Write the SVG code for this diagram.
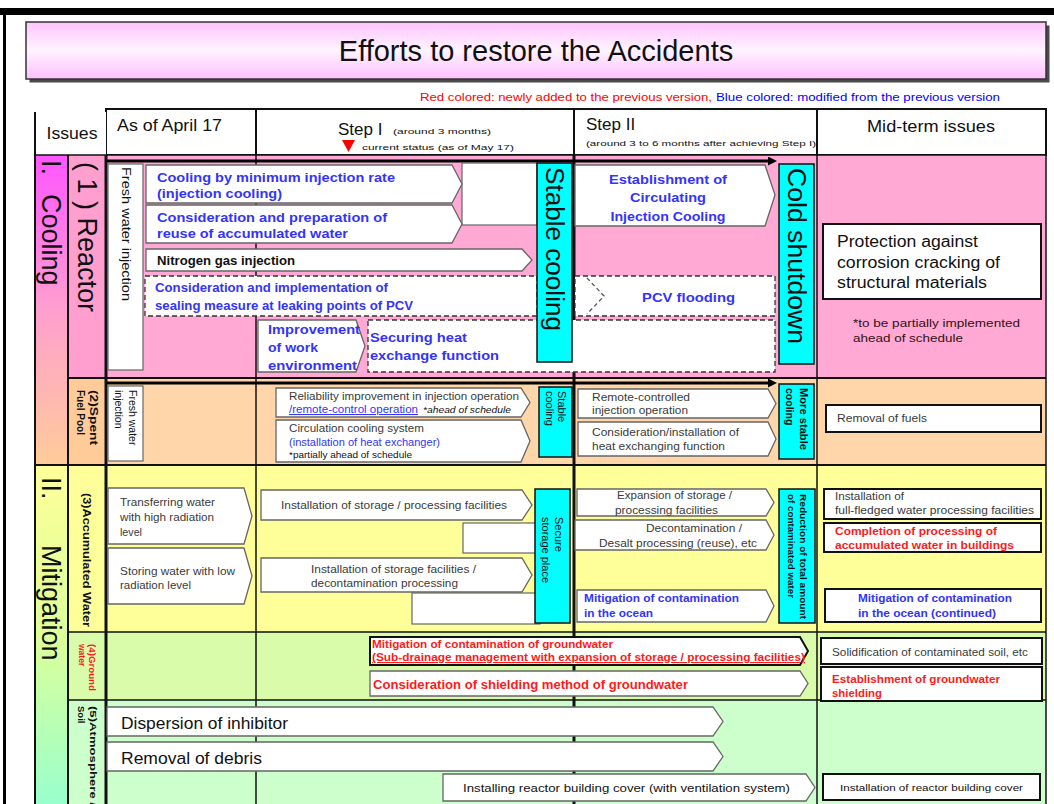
<svg xmlns="http://www.w3.org/2000/svg" width="1054" height="804" viewBox="0 0 1054 804">
<style>
text{font-family:"Liberation Sans",Arial,Helvetica,sans-serif;fill:#111}
.bb{fill:#3333ff;font-weight:bold;font-size:13px}
.bs{fill:#3333ff;font-weight:bold;font-size:11px}
.rb{fill:#ff1a1a;font-weight:bold;font-size:11px}
.gt{fill:#3a3a3a;font-size:10.5px}
.pent{fill:#fff;stroke:#666;stroke-width:1.3}
.pentk{fill:#fff;stroke:#111;stroke-width:2}
.dash{fill:#fff;stroke:#333;stroke-width:1.3;stroke-dasharray:5 3}
.cyan{fill:#00ffff;stroke:#111;stroke-width:1.5}
.box{fill:#fff;stroke:#111;stroke-width:2}
.wbox{fill:#fff;stroke:#666;stroke-width:1.2}
.rot{dominant-baseline:central}
.ln{stroke:#111;fill:none}
</style>
<defs>
<linearGradient id="gTitle" x1="0" y1="0" x2="0" y2="1">
<stop offset="0" stop-color="#ffc4ff"/>
<stop offset="0.5" stop-color="#fff4ff"/>
<stop offset="1" stop-color="#ffbfff"/>
</linearGradient>
<linearGradient id="gCool" x1="0" y1="0" x2="0" y2="1">
<stop offset="0" stop-color="#ff55ff"/>
<stop offset="0.5" stop-color="#ff9fcf"/>
<stop offset="1" stop-color="#ffcc99"/>
</linearGradient>
<linearGradient id="gMit" x1="0" y1="0" x2="0" y2="1">
<stop offset="0" stop-color="#ffff99"/>
<stop offset="0.5" stop-color="#ddff99"/>
<stop offset="1" stop-color="#99ffcc"/>
</linearGradient>
<marker id="ah" viewBox="0 0 10 10" refX="0" refY="5" markerWidth="3" markerHeight="3" orient="auto" markerUnits="strokeWidth">
<path d="M0 0 L10 5 L0 10 Z" fill="#000"/>
</marker>
</defs>

<rect x="0" y="0" width="1054" height="804" fill="#fff"/>
<rect x="0" y="8" width="1054" height="7" fill="#000"/>
<rect x="3" y="8" width="3" height="796" fill="#000"/>

<g id="title">
<rect x="29.5" y="25.5" width="1020" height="57" fill="#4a4a4a"/>
<rect x="26" y="22" width="1020" height="57" fill="url(#gTitle)" stroke="#333" stroke-width="1.5"/>
<text x="536" y="61" font-size="29" text-anchor="middle">Efforts to restore the Accidents</text>
</g>

<g id="legend">
<text x="420" y="101" font-size="11" fill="#ff0000" style="fill:#ff0000" textLength="292" lengthAdjust="spacingAndGlyphs">Red colored: newly added to the previous version,</text>
<text x="716" y="101" font-size="11" style="fill:#0000ff" textLength="284" lengthAdjust="spacingAndGlyphs">Blue colored: modified from the previous version</text>
</g>

<g id="header">
<rect x="106" y="109" width="940" height="46" fill="#fff" stroke="#111" stroke-width="2"/>
<rect x="35" y="112" width="71" height="43" fill="#fff"/>
<line class="ln" x1="35" y1="112" x2="35" y2="155" stroke-width="2"/>
<line class="ln" x1="256" y1="109" x2="256" y2="155" stroke-width="2"/>
<line class="ln" x1="574" y1="109" x2="574" y2="155" stroke-width="2"/>
<line class="ln" x1="817" y1="109" x2="817" y2="155" stroke-width="2"/>
<text x="72" y="139" font-size="16" text-anchor="middle" textLength="51" lengthAdjust="spacingAndGlyphs">Issues</text>
<text x="117" y="131" font-size="16" textLength="105" lengthAdjust="spacingAndGlyphs">As of April 17</text>
<text x="338" y="135" font-size="17">Step I</text>
<text x="393" y="134" font-size="8" textLength="98" lengthAdjust="spacingAndGlyphs">(around 3 months)</text>
<path d="M342 140 L355 140 L348.5 152 Z" fill="#ff0000"/>
<text x="362" y="150" font-size="8" textLength="152" lengthAdjust="spacingAndGlyphs">current status (as of May 17)</text>
<text x="586" y="130" font-size="17">Step II</text>
<text x="586" y="146" font-size="8" textLength="230" lengthAdjust="spacingAndGlyphs">(around 3 to 6 months after achieving Step I)</text>
<text x="931" y="132" font-size="17" text-anchor="middle" textLength="128" lengthAdjust="spacingAndGlyphs">Mid-term issues</text>
</g>

<g id="grid">
<rect x="106" y="155" width="940" height="223" fill="#ffa9d4"/>
<rect x="106" y="378" width="940" height="87" fill="#ffd6a9"/>
<rect x="106" y="465" width="940" height="167" fill="#ffff99"/>
<rect x="106" y="632" width="940" height="68" fill="#d9fcab"/>
<rect x="106" y="700" width="940" height="104" fill="#ccffcc"/>
<rect x="35" y="155" width="33" height="310" fill="url(#gCool)"/>
<rect x="35" y="465" width="33" height="339" fill="url(#gMit)"/>
<rect x="68" y="155" width="38" height="223" fill="#ff9fcf"/>
<rect x="68" y="378" width="38" height="87" fill="#ffcc99"/>
<rect x="68" y="465" width="38" height="167" fill="#ffff99"/>
<rect x="68" y="632" width="38" height="68" fill="#d9fcab"/>
<rect x="68" y="700" width="38" height="104" fill="#ccffcc"/>
<line class="ln" x1="35" y1="155" x2="1046" y2="155" stroke-width="1.5"/>
<line class="ln" x1="68" y1="378" x2="1046" y2="378" stroke="#4a2a3a" stroke-width="2"/>
<line class="ln" x1="35" y1="465" x2="1046" y2="465" stroke-width="2"/>
<line class="ln" x1="68" y1="632" x2="1046" y2="632" stroke-width="1.5"/>
<line class="ln" x1="68" y1="700" x2="1046" y2="700" stroke-width="1.5"/>
<line class="ln" x1="35" y1="155" x2="35" y2="804" stroke-width="2"/>
<line class="ln" x1="68" y1="155" x2="68" y2="804" stroke-width="2"/>
<line class="ln" x1="106" y1="155" x2="106" y2="804" stroke-width="3"/>
<line class="ln" x1="256" y1="155" x2="256" y2="804" stroke-width="1.5"/>
<line class="ln" x1="574" y1="155" x2="574" y2="804" stroke-width="3"/>
<line class="ln" x1="817" y1="155" x2="817" y2="804" stroke-width="1.5"/>
<line class="ln" x1="1046" y1="155" x2="1046" y2="804" stroke-width="1.5"/>
</g>

<g id="labels">
<g id="lab-cooling">
<text class="rot" font-size="27" transform="translate(51 160) rotate(90)">I.</text>
<text class="rot" font-size="27" transform="translate(51 194) rotate(90)">Cooling</text>
</g>
<g id="lab-mitigation">
<text class="rot" font-size="27" transform="translate(51 477) rotate(90)">II.</text>
<text class="rot" font-size="27" transform="translate(51 545) rotate(90)">Mitigation</text>
</g>
<g id="lab-reactor">
<text class="rot" font-size="27" transform="translate(87 162) rotate(90)" textLength="150" lengthAdjust="spacingAndGlyphs">( 1 ) Reactor</text>
</g>
<g id="lab-sfp" transform="translate(87 390) rotate(90)">
<text class="rot" y="-6.5" font-size="10" font-weight="bold" fill="#333" textLength="55" lengthAdjust="spacingAndGlyphs">(2)Spent</text>
<text class="rot" y="6.5" font-size="10" font-weight="bold" fill="#333">Fuel Pool</text>
</g>
<g id="lab-aw">
<text class="rot" font-size="11" font-weight="bold" fill="#333" transform="translate(87 493) rotate(90)" textLength="134" lengthAdjust="spacingAndGlyphs">(3)Accumulated Water</text>
</g>
<g id="lab-gw" transform="translate(87 644) rotate(90)">
<text class="rot" y="-5" font-size="8.5" font-weight="bold" style="fill:#ff1a1a" textLength="47" lengthAdjust="spacingAndGlyphs">(4)Ground</text>
<text class="rot" y="5" font-size="8.5" font-weight="bold" style="fill:#ff1a1a">water</text>
</g>
<g id="lab-as" transform="translate(87 706) rotate(90)">
<text class="rot" y="-6" font-size="9.5" font-weight="bold" fill="#333" textLength="100" lengthAdjust="spacingAndGlyphs">(5)Atmosphere /</text>
<text class="rot" y="6" font-size="9.5" font-weight="bold" fill="#333">Soil</text>
</g>
</g>

<g id="connectors">
<line x1="107" y1="161" x2="768" y2="161" stroke="#000" stroke-width="3" marker-end="url(#ah)"/>
<line x1="107" y1="383" x2="768" y2="383" stroke="#000" stroke-width="3" marker-end="url(#ah)"/>
</g>

<!-- Reactor row -->
<g id="n-fresh-reactor">
<rect class="wbox" x="108" y="164" width="35" height="206" stroke="#333"/>
<text class="rot" font-size="12" fill="#333" transform="translate(125.5 167) rotate(90)" textLength="134" lengthAdjust="spacingAndGlyphs">Fresh water injection</text>
</g>
<g id="n-circ-start"><rect class="wbox" x="462" y="163" width="75" height="62"/></g>
<g id="n-cool-min">
<path class="pent" d="M146 165 H452 L462 184 L452 203 H146 Z"/>
<text class="bb" x="157" y="182" textLength="238" lengthAdjust="spacingAndGlyphs">Cooling by minimum injection rate</text>
<text class="bb" x="157" y="198" textLength="125" lengthAdjust="spacingAndGlyphs">(injection cooling)</text>
</g>
<g id="n-reuse">
<path class="pent" d="M146 205 H452 L462 224 L452 243 H146 Z"/>
<text class="bb" x="157" y="222" textLength="230" lengthAdjust="spacingAndGlyphs">Consideration and preparation of</text>
<text class="bb" x="157" y="238" textLength="191" lengthAdjust="spacingAndGlyphs">reuse of accumulated water</text>
</g>
<g id="n-nitrogen">
<path class="pent" d="M146 249 H522 L532 260 L522 271 H146 Z"/>
<text x="157" y="265" font-size="12.5" font-weight="bold" fill="#333" textLength="138" lengthAdjust="spacingAndGlyphs">Nitrogen gas injection</text>
</g>
<g id="n-sealing">
<rect class="dash" x="145" y="276" width="392" height="40"/>
<text class="bb" x="155" y="292" textLength="233" lengthAdjust="spacingAndGlyphs">Consideration and implementation of</text>
<text class="bb" x="155" y="310" textLength="258" lengthAdjust="spacingAndGlyphs">sealing measure at leaking points of PCV</text>
</g>
<g id="n-securing">
<rect class="dash" x="368" y="320" width="407" height="52"/>
<text class="bb" x="370" y="342" textLength="97" lengthAdjust="spacingAndGlyphs">Securing heat</text>
<text class="bb" x="370" y="360" textLength="129" lengthAdjust="spacingAndGlyphs">exchange function</text>
</g>
<g id="n-improvement">
<path class="pent" d="M258 320 H356 L365 346 L356 372 H258 Z" stroke="#333"/>
<text class="bb" x="268" y="334" textLength="92" lengthAdjust="spacingAndGlyphs">Improvement</text>
<text class="bb" x="268" y="352" textLength="50" lengthAdjust="spacingAndGlyphs">of work</text>
<text class="bb" x="268" y="370" textLength="89" lengthAdjust="spacingAndGlyphs">environment</text>
</g>
<g id="n-stable-cooling">
<rect class="cyan" x="537" y="163" width="35" height="199"/>
<text class="rot" font-size="26" transform="translate(555 167) rotate(90)" textLength="164" lengthAdjust="spacingAndGlyphs">Stable cooling</text>
</g>
<g id="n-establishment">
<path class="pent" d="M575 165 H765 L775 195 L765 226 H575 Z"/>
<text class="bb" x="668" y="184" text-anchor="middle" textLength="118" lengthAdjust="spacingAndGlyphs">Establishment of</text>
<text class="bb" x="668" y="202" text-anchor="middle" textLength="76" lengthAdjust="spacingAndGlyphs">Circulating</text>
<text class="bb" x="668" y="221" text-anchor="middle" textLength="115" lengthAdjust="spacingAndGlyphs">Injection Cooling</text>
</g>
<g id="n-pcv-flooding">
<rect class="dash" x="575" y="276" width="200" height="40"/>
<polyline points="587,278 604,296 587,314" fill="none" stroke="#555" stroke-width="1.3" stroke-dasharray="4 3"/>
<text class="bb" x="642" y="302" textLength="93" lengthAdjust="spacingAndGlyphs">PCV flooding</text>
</g>
<g id="n-cold-shutdown">
<rect class="cyan" x="779" y="164" width="35" height="200"/>
<text class="rot" font-size="26" transform="translate(797 168) rotate(90)" textLength="176" lengthAdjust="spacingAndGlyphs">Cold shutdown</text>
</g>
<g id="n-protection">
<rect class="box" x="823" y="224" width="218" height="75"/>
<text x="837" y="247" font-size="16" textLength="141" lengthAdjust="spacingAndGlyphs">Protection against</text>
<text x="837" y="268" font-size="16" textLength="163" lengthAdjust="spacingAndGlyphs">corrosion cracking of</text>
<text x="837" y="288" font-size="16" textLength="150" lengthAdjust="spacingAndGlyphs">structural materials</text>
</g>
<g id="n-footnote">
<text x="853" y="327" font-size="10.5" style="fill:#331111" textLength="167" lengthAdjust="spacingAndGlyphs">*to be partially implemented</text>
<text x="853" y="342" font-size="10.5" style="fill:#331111" textLength="110" lengthAdjust="spacingAndGlyphs">ahead of schedule</text>
</g>

<!-- Spent fuel pool row -->
<g id="n-fresh-sfp">
<rect class="wbox" x="108" y="386" width="35" height="75" stroke="#333"/>
<g transform="translate(125.5 390) rotate(90)">
<text class="rot" y="-7" font-size="10.5" fill="#333">Fresh water</text>
<text class="rot" y="7" font-size="10.5" fill="#333">injection</text>
</g>
</g>
<g id="n-reliability">
<path class="pent" d="M276 388 H521 L530 402.5 L521 417 H276 Z"/>
<text class="gt" x="289" y="400" textLength="230" lengthAdjust="spacingAndGlyphs">Reliability improvement in injection operation</text>
<text class="gt" x="289" y="413" style="fill:#3333ff" text-decoration="underline" textLength="129" lengthAdjust="spacingAndGlyphs">/remote-control operation</text>
<text x="423" y="413" font-size="9" font-style="italic" fill="#222" textLength="88" lengthAdjust="spacingAndGlyphs">*ahead of schedule</text>
</g>
<g id="n-circulation">
<path class="pent" d="M276 420 H521 L530 441 L521 462 H276 Z"/>
<text class="gt" x="289" y="432" textLength="135" lengthAdjust="spacingAndGlyphs">Circulation cooling system</text>
<text class="gt" x="289" y="446" style="fill:#3333ff" textLength="151" lengthAdjust="spacingAndGlyphs">(installation of heat exchanger)</text>
<text x="289" y="458" font-size="9" fill="#222" textLength="123" lengthAdjust="spacingAndGlyphs">*partially ahead of schedule</text>
</g>
<g id="n-stable-sfp">
<rect class="cyan" x="539" y="387" width="33" height="70"/>
<g transform="translate(555.5 391) rotate(90)">
<text class="rot" y="-6" font-size="11">Stable</text>
<text class="rot" y="6" font-size="11">cooling</text>
</g>
</g>
<g id="n-remote">
<path class="pent" d="M578 389 H768 L776 403.5 L768 418 H578 Z"/>
<text class="gt" x="592" y="401" textLength="98" lengthAdjust="spacingAndGlyphs">Remote-controlled</text>
<text class="gt" x="592" y="414" textLength="96" lengthAdjust="spacingAndGlyphs">injection operation</text>
</g>
<g id="n-heat-exch">
<path class="pent" d="M578 422 H768 L776 439 L768 456 H578 Z"/>
<text class="gt" x="592" y="436" textLength="147" lengthAdjust="spacingAndGlyphs">Consideration/installation of</text>
<text class="gt" x="592" y="450" textLength="133" lengthAdjust="spacingAndGlyphs">heat exchanging function</text>
</g>
<g id="n-more-stable">
<rect class="cyan" x="779" y="384" width="35" height="75"/>
<g transform="translate(796.5 388) rotate(90)">
<text class="rot" y="-7" font-size="10.5" font-weight="bold" textLength="62" lengthAdjust="spacingAndGlyphs">More stable</text>
<text class="rot" y="7" font-size="10.5" font-weight="bold">cooling</text>
</g>
</g>
<g id="n-removal-fuels">
<rect class="box" x="826" y="405" width="215" height="27"/>
<text class="gt" x="837" y="422" textLength="90" lengthAdjust="spacingAndGlyphs">Removal of fuels</text>
</g>

<!-- Accumulated water row -->
<g id="n-transfer">
<path class="pent" d="M108 488 H244 L252 516 L244 544 H108 Z"/>
<text class="gt" x="120" y="506" textLength="95" lengthAdjust="spacingAndGlyphs">Transferring water</text>
<text class="gt" x="120" y="521" textLength="94" lengthAdjust="spacingAndGlyphs">with high radiation</text>
<text class="gt" x="120" y="536" textLength="22" lengthAdjust="spacingAndGlyphs">level</text>
</g>
<g id="n-storing">
<path class="pent" d="M108 548 H244 L252 576 L244 604 H108 Z"/>
<text class="gt" x="120" y="575" textLength="115" lengthAdjust="spacingAndGlyphs">Storing water with low</text>
<text class="gt" x="120" y="589" textLength="71" lengthAdjust="spacingAndGlyphs">radiation level</text>
</g>
<g id="n-white-aw1"><rect class="wbox" x="463" y="523" width="77" height="30" stroke="#333"/></g>
<g id="n-white-aw2"><rect class="wbox" x="412" y="593" width="128" height="31" stroke="#333"/></g>
<g id="n-install-sp">
<path class="pent" d="M261 490 H522 L532 505 L522 520 H261 Z"/>
<text class="gt" x="281" y="509" textLength="226" lengthAdjust="spacingAndGlyphs">Installation of storage / processing facilities</text>
</g>
<g id="n-install-sf">
<path class="pent" d="M261 558 H522 L532 575 L522 592 H261 Z"/>
<text class="gt" x="311" y="573" textLength="165" lengthAdjust="spacingAndGlyphs">Installation of storage facilities /</text>
<text class="gt" x="311" y="587" textLength="147" lengthAdjust="spacingAndGlyphs">decontamination processing</text>
</g>
<g id="n-secure">
<rect class="cyan" x="535" y="489" width="35" height="134"/>
<g transform="translate(552.5 517) rotate(90)">
<text class="rot" y="-6.5" font-size="11">Secure</text>
<text class="rot" y="6.5" font-size="11">storage place</text>
</g>
</g>
<g id="n-expansion">
<path class="pent" d="M577 489 H766 L774 502.5 L766 516 H577 Z"/>
<text class="gt" x="617" y="499" textLength="115" lengthAdjust="spacingAndGlyphs">Expansion of storage /</text>
<text class="gt" x="615" y="514" textLength="103" lengthAdjust="spacingAndGlyphs">processing facilities</text>
</g>
<g id="n-decon">
<path class="pent" d="M575 520 H766 L774 535 L766 550 H575 Z"/>
<text class="gt" x="646" y="532" textLength="96" lengthAdjust="spacingAndGlyphs">Decontamination /</text>
<text class="gt" x="599" y="547" textLength="158" lengthAdjust="spacingAndGlyphs">Desalt processing (reuse), etc</text>
</g>
<g id="n-mitig-ocean">
<path class="pent" d="M577 590 H766 L774 606 L766 622 H577 Z"/>
<text class="bs" x="584" y="602" textLength="155" lengthAdjust="spacingAndGlyphs">Mitigation of contamination</text>
<text class="bs" x="584" y="617" textLength="69" lengthAdjust="spacingAndGlyphs">in the ocean</text>
</g>
<g id="n-reduction">
<rect class="cyan" x="779" y="489" width="36" height="134"/>
<g transform="translate(797 494) rotate(90)">
<text class="rot" y="-6" font-size="9.5" font-weight="bold" textLength="125" lengthAdjust="spacingAndGlyphs">Reduction of total amount</text>
<text class="rot" y="6" font-size="9.5" font-weight="bold" textLength="104" lengthAdjust="spacingAndGlyphs">of contaminated water</text>
</g>
</g>
<g id="n-fullfledged">
<rect class="box" x="824" y="489" width="217" height="30"/>
<text class="gt" x="835" y="500" fill="#222" textLength="69" lengthAdjust="spacingAndGlyphs">Installation of</text>
<text class="gt" x="835" y="514" fill="#222" textLength="199" lengthAdjust="spacingAndGlyphs">full-fledged water processing facilities</text>
</g>
<g id="n-completion">
<rect class="box" x="824" y="523" width="217" height="29"/>
<text class="rb" x="835" y="535" textLength="162" lengthAdjust="spacingAndGlyphs">Completion of processing of</text>
<text class="rb" x="835" y="549" textLength="179" lengthAdjust="spacingAndGlyphs">accumulated water in buildings</text>
</g>
<g id="n-ocean-cont">
<rect class="box" x="825" y="589" width="216" height="33"/>
<text class="bs" x="858" y="602" textLength="154" lengthAdjust="spacingAndGlyphs">Mitigation of contamination</text>
<text class="bs" x="858" y="617" textLength="138" lengthAdjust="spacingAndGlyphs">in the ocean (continued)</text>
</g>

<!-- Groundwater row -->
<g id="n-gw-mitig">
<path class="pentk" d="M370 637 H800 L808 651 L800 665 H370 Z"/>
<text class="rb" x="372" y="648" textLength="241" lengthAdjust="spacingAndGlyphs">Mitigation of contamination of groundwater</text>
<text class="rb" x="372" y="661" text-decoration="underline" textLength="433" lengthAdjust="spacingAndGlyphs">(Sub-drainage management with expansion of storage / processing facilities)</text>
</g>
<g id="n-gw-shield">
<path class="pent" d="M370 671 H800 L808 683.5 L800 696 H370 Z"/>
<text class="rb" x="373" y="689" font-size="12.5" style="font-size:12.5px" textLength="315" lengthAdjust="spacingAndGlyphs">Consideration of shielding method of groundwater</text>
</g>
<g id="n-solidification">
<rect class="box" x="821" y="638" width="221" height="26"/>
<text class="gt" x="832" y="656" textLength="196" lengthAdjust="spacingAndGlyphs">Solidification of contaminated soil, etc</text>
</g>
<g id="n-gw-establish">
<rect class="box" x="821" y="667" width="221" height="34"/>
<text class="rb" x="832" y="683" textLength="168" lengthAdjust="spacingAndGlyphs">Establishment of groundwater</text>
<text class="rb" x="832" y="697" textLength="50" lengthAdjust="spacingAndGlyphs">shielding</text>
</g>

<!-- Atmosphere / Soil row -->
<g id="n-dispersion">
<path class="pent" d="M107 707 H713 L723 721.5 L713 736 H107 Z"/>
<text x="121" y="729" font-size="17" fill="#222" textLength="167" lengthAdjust="spacingAndGlyphs">Dispersion of inhibitor</text>
</g>
<g id="n-debris">
<path class="pent" d="M107 742 H713 L723 756.5 L713 771 H107 Z"/>
<text x="121" y="764" font-size="17" fill="#222" textLength="141" lengthAdjust="spacingAndGlyphs">Removal of debris</text>
</g>
<g id="n-cover">
<path class="pent" d="M443 774 H806 L815 787.5 L806 801 H443 Z"/>
<text x="463" y="792" font-size="11.5" fill="#222" textLength="327" lengthAdjust="spacingAndGlyphs">Installing reactor building cover (with ventilation system)</text>
</g>
<g id="n-cover-mid">
<rect class="box" x="823" y="774" width="217" height="26"/>
<text x="840" y="791" font-size="9.5" fill="#333" textLength="183" lengthAdjust="spacingAndGlyphs">Installation of reactor building cover</text>
</g>
</svg>
